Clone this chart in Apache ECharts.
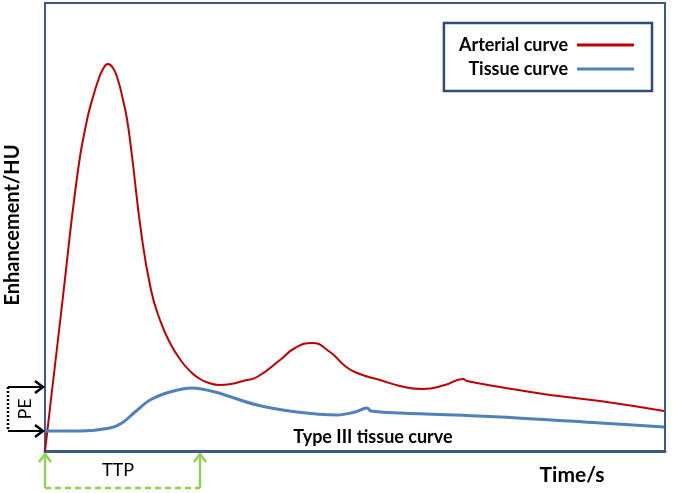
<!DOCTYPE html>
<html>
<head>
<meta charset="utf-8">
<script src="https://cdn.jsdelivr.net/npm/echarts@6/dist/echarts.min.js"></script>
<style>
  html, body { margin: 0; padding: 0; background: #fff; }
  #chart { width: 674px; height: 493px; }
</style>
</head>
<body>
<div id="chart"></div>
<script>
// time (s) / enhancement (HU) pairs
var arterialCurve = [
  [0, 0], [17, 146], [33, 281], [42, 331], [48, 354], [53, 370], [58, 382], [63, 387],
  [68, 383], [73, 371], [78, 351], [82, 332], [87, 295], [96, 220], [106, 161],
  [115, 131], [125, 108], [137, 89], [146, 79], [155, 72], [164, 68], [174, 66],
  [186, 67], [198, 70], [212, 74], [235, 91], [250, 103], [267, 108], [285, 99],
  [300, 85], [312, 78], [335, 71], [355, 65], [378, 62], [400, 66], [418, 72],
  [422, 70], [455, 64], [505, 56], [555, 50], [619, 40]
];
var tissueCurve = [
  [0, 20], [35, 20], [65, 23], [77, 28], [90, 39], [105, 51], [125, 59], [147, 63],
  [170, 59], [212, 46], [252, 39], [292, 36], [310, 39], [322, 43], [326, 40],
  [355, 38], [455, 34], [555, 28], [619, 24]
];
var seriesNames = ["Arterial curve", "Tissue curve"];
var ttpTime = 155;      // time to peak marker
var peakEnh = 64;       // PE upper level
var baseEnh = 20;       // PE lower level

var font = "Lato, 'Open Sans', sans-serif";
var frameColor = "#3A5A8C";

var chart = echarts.init(document.getElementById("chart"));
chart.setOption({
  animation: false,
  backgroundColor: "#fff",
  grid: {
    left: 45, right: 9, top: 3, bottom: 42,
    show: true, borderColor: frameColor, borderWidth: 2
  },
  xAxis: {
    type: "value", min: 0, max: 620,
    axisLine: { show: true, onZero: false, lineStyle: { color: frameColor, width: 3 } },
    axisTick: { show: false }, axisLabel: { show: false }, splitLine: { show: false }
  },
  yAxis: {
    type: "value", min: 0, max: 448,
    axisLine: { show: false }, axisTick: { show: false },
    axisLabel: { show: false }, splitLine: { show: false }
  },
  legend: {
    data: seriesNames,
    orient: "vertical",
    align: "right",
    right: 22, top: 23,
    padding: [13, 18, 13, 15],
    itemGap: 6,
    itemWidth: 57, itemHeight: 3,
    icon: "rect",
    borderColor: "#2F4B7C", borderWidth: 2.5,
    textStyle: { fontFamily: font, fontSize: 18, fontWeight: "bold", color: "#000",
      lineHeight: 18, padding: [0, 4, 0, 0] }
  },
  series: [
    {
      name: seriesNames[0], type: "line", data: arterialCurve, smooth: 0.5,
      showSymbol: false, clip: false,
      lineStyle: { color: "#C00000", width: 2 }, itemStyle: { color: "#C00000" }
    },
    {
      name: seriesNames[1], type: "line", data: tissueCurve, smooth: 0.35,
      showSymbol: false, clip: false,
      lineStyle: { color: "#4F81BD", width: 3 }, itemStyle: { color: "#4F81BD" }
    }
  ]
});

// annotations placed from the axis scales
var x0 = chart.convertToPixel({ gridIndex: 0 }, [0, 0]);
var xT = chart.convertToPixel({ gridIndex: 0 }, [ttpTime, 0]);
var yPe = chart.convertToPixel({ gridIndex: 0 }, [0, peakEnh])[1];
var yBase = chart.convertToPixel({ gridIndex: 0 }, [0, baseEnh])[1];
var axisX = x0[0], axisY = x0[1];
var green = "#92D050";
var bx = 8, gy = 488;

function chevronRight(x, y) {
  return { type: "polyline", shape: { points: [[x - 8, y - 6], [x, y], [x - 8, y + 6]] },
    style: { stroke: "#000", lineWidth: 2.5, fill: null } };
}
function chevronUp(x, y) {
  return { type: "polyline", shape: { points: [[x - 6, y + 8], [x, y], [x + 6, y + 8]] },
    style: { stroke: green, lineWidth: 2.5, fill: null } };
}

chart.setOption({
  graphic: [
    // PE bracket
    { type: "line", shape: { x1: bx, y1: yPe, x2: axisX - 2, y2: yPe }, style: { stroke: "#000", lineWidth: 2 } },
    { type: "line", shape: { x1: bx, y1: yBase, x2: axisX - 2, y2: yBase }, style: { stroke: "#000", lineWidth: 2 } },
    { type: "line", shape: { x1: bx, y1: yPe, x2: bx, y2: yBase }, style: { stroke: "#000", lineWidth: 2.5, lineDash: [2, 2] } },
    chevronRight(axisX - 2, yPe),
    chevronRight(axisX - 2, yBase),
    { type: "text", x: 25, y: (yPe + yBase) / 2, rotation: Math.PI / 2,
      style: { text: "PE", fontFamily: font, fontSize: 18, fill: "#000", align: "center", verticalAlign: "middle" } },
    // TTP bracket
    { type: "line", shape: { x1: axisX, y1: gy, x2: axisX, y2: axisY + 3 }, style: { stroke: green, lineWidth: 2.5 } },
    { type: "line", shape: { x1: xT[0], y1: gy, x2: xT[0], y2: axisY + 3 }, style: { stroke: green, lineWidth: 2.5 } },
    { type: "line", shape: { x1: axisX, y1: gy, x2: xT[0], y2: gy }, style: { stroke: green, lineWidth: 2.5, lineDash: [6, 4] } },
    chevronUp(axisX, axisY + 3),
    chevronUp(xT[0], axisY + 3),
    { type: "text", x: 118, y: 470,
      style: { text: "TTP", fontFamily: font, fontSize: 18, fill: "#000", align: "center", verticalAlign: "middle" } },
    // labels
    { type: "text", x: 373, y: 437,
      style: { text: "Type III tissue curve", fontFamily: font, fontSize: 18, fontWeight: "bold", fill: "#000", align: "center", verticalAlign: "middle" } },
    { type: "text", x: 572, y: 475,
      style: { text: "Time/s", fontFamily: font, fontSize: 21, fontWeight: "bold", fill: "#000", align: "center", verticalAlign: "middle" } },
    { type: "text", x: 13, y: 225, rotation: Math.PI / 2,
      style: { text: "Enhancement/HU", fontFamily: font, fontSize: 20, fontWeight: "bold", fill: "#000", align: "center", verticalAlign: "middle" } }
  ]
});
</script>
</body>
</html>
